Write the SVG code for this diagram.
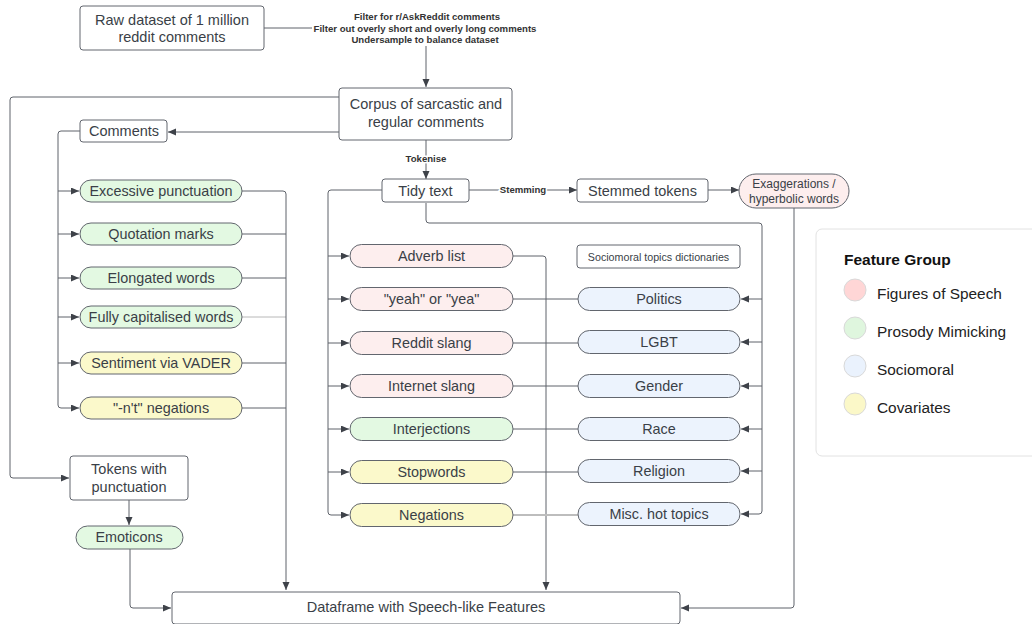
<svg xmlns="http://www.w3.org/2000/svg" width="1032" height="624" viewBox="0 0 1032 624">
<defs>
<style>
text{font-family:"Liberation Sans",Arial,sans-serif;fill:#3a3f47;text-anchor:middle;dominant-baseline:central}
.box{fill:#fff;stroke:#62666e;stroke-width:1}
.pill{stroke:#62666e;stroke-width:1}
.pk{fill:#fdeeee}.gr{fill:#e3f9e2}.bl{fill:#ecf3fd}.ye{fill:#fbf9cb}
.t{font-size:14.5px}
.p{font-size:14.4px}
.lab{font-size:9.6px;font-weight:bold;fill:#333}
.c{fill:none;stroke:#5f636b;stroke-width:1}
.ca{fill:none;stroke:#5f636b;stroke-width:1;marker-end:url(#ah)}
.lt{fill:none;stroke:#b8b8b8;stroke-width:1}
.lg{font-size:15.4px;text-anchor:start;fill:#222}
</style>
<marker id="ah" markerUnits="userSpaceOnUse" markerWidth="9" markerHeight="8" refX="8" refY="3.5" orient="auto">
<path d="M0,0 L8,3.5 L0,7 z" fill="#3e4249"/>
</marker>
</defs>
<rect width="1032" height="624" fill="#fff"/>

<g id="connectors">
<path class="c" d="M264,28 H312"/>
<path class="ca" d="M426,46 V87"/>
<path class="ca" d="M339,132 H168"/>
<path class="ca" d="M339,97 H13 Q10,97 10,100 V475 Q10,478 13,478 H69"/>
<path class="c" d="M80,131 H61 Q58,131 58,134 V405 Q58,408 61,408"/>
<path class="ca" d="M58,191 H79"/>
<path class="ca" d="M58,234 H79"/>
<path class="ca" d="M58,278 H79"/>
<path class="ca" d="M58,317 H79"/>
<path class="ca" d="M58,363 H79"/>
<path class="ca" d="M61,408 H79"/>
<path class="c" d="M242,191 H283 Q286,191 286,194 V234"/>
<path class="c" d="M242,234 H286"/>
<path class="c" d="M242,278 H286"/>
<path class="lt" d="M242,317 H286"/>
<path class="c" d="M242,363 H286"/>
<path class="c" d="M242,408 H286"/>
<path class="ca" d="M286,234 V590"/>
<path class="ca" d="M129,500 V525"/>
<path class="ca" d="M130,548 V605 Q130,608 133,608 H171"/>
<path class="ca" d="M426,140 V179"/>
<path class="ca" d="M469,190 H577"/>
<path class="ca" d="M708,190 H739"/>
<path class="ca" d="M794,208 V605 Q794,608 791,608 H681"/>
<path class="c" d="M382,190 H331 Q328,190 328,193 V512 Q328,515 331,515"/>
<path class="ca" d="M328,256 H349"/>
<path class="ca" d="M328,299 H349"/>
<path class="ca" d="M328,343 H349"/>
<path class="ca" d="M328,386 H349"/>
<path class="ca" d="M328,429 H349"/>
<path class="ca" d="M328,472 H349"/>
<path class="ca" d="M331,515 H349"/>
<path class="c" d="M426,203 V220 Q426,223 429,223 H759 Q762,223 762,226 V511 Q762,514 759,514"/>
<path class="ca" d="M762,299 H741"/>
<path class="ca" d="M762,342 H741"/>
<path class="ca" d="M762,386 H741"/>
<path class="ca" d="M762,429 H741"/>
<path class="ca" d="M762,471 H741"/>
<path class="ca" d="M759,514 H741"/>
<path class="ca" d="M513,256 H543 Q546,256 546,259 V590"/>
<path class="c" d="M513,299 H578"/>
<path class="c" d="M513,343 H578"/>
<path class="c" d="M513,386 H578"/>
<path class="c" d="M513,429 H578"/>
<path class="c" d="M513,472 H578"/>
<path fill="none" stroke="#bdbdbd" stroke-width="2" d="M513,515 H578"/>
<text class="lab" x="426" y="158" style="paint-order:stroke;stroke:#fff;stroke-width:3px">Tokenise</text>
<text class="lab" x="523" y="189" style="paint-order:stroke;stroke:#fff;stroke-width:3px">Stemming</text>
<text class="lab" x="427" y="16">Filter for r/AskReddit comments</text>
<text class="lab" x="425" y="28">Filter out overly short and overly long comments</text>
<text class="lab" x="425" y="39">Undersample to balance dataset</text>
</g>

<g id="raw"><rect class="box" x="80" y="6" width="184" height="44" rx="3"/><text class="t" x="172" y="20">Raw dataset of 1 million</text><text class="t" x="172" y="37">reddit comments</text></g>
<g id="corpus"><rect class="box" x="339" y="88" width="173" height="52" rx="3"/><text class="t" x="426" y="104">Corpus of sarcastic and</text><text class="t" x="426" y="122">regular comments</text></g>
<g id="comments"><rect class="box" x="80" y="120" width="87" height="22" rx="3"/><text class="t" x="124" y="131">Comments</text></g>
<g id="tokens-punct"><rect class="box" x="70" y="456" width="118" height="44" rx="3"/><text class="t" x="129" y="469">Tokens with</text><text class="t" x="129" y="487">punctuation</text></g>
<g id="emoticons"><rect class="pill gr" x="76" y="526" width="107" height="23" rx="11.5"/><text class="p" x="129" y="537">Emoticons</text></g>
<g id="dataframe"><rect class="box" x="172" y="592" width="508" height="32" rx="3"/><text class="t" x="426" y="607">Dataframe with Speech-like Features</text></g>

<g id="excessive"><rect class="pill gr" x="80" y="180" width="162" height="22" rx="11"/><text class="p" x="161" y="191">Excessive punctuation</text></g>
<g id="quotation"><rect class="pill gr" x="80" y="223" width="162" height="22" rx="11"/><text class="p" x="161" y="234">Quotation marks</text></g>
<g id="elongated"><rect class="pill gr" x="80" y="267" width="162" height="22" rx="11"/><text class="p" x="161" y="278">Elongated words</text></g>
<g id="fullycap"><rect class="pill gr" x="80" y="306" width="162" height="22" rx="11"/><text class="p" x="161" y="317">Fully capitalised words</text></g>
<g id="sentiment"><rect class="pill ye" x="80" y="352" width="162" height="22" rx="11"/><text class="p" x="161" y="363">Sentiment via VADER</text></g>
<g id="nt-neg"><rect class="pill ye" x="80" y="397" width="162" height="22" rx="11"/><text class="p" x="161" y="408">"-n't" negations</text></g>

<g id="tidy"><rect class="box" x="382" y="179" width="87" height="23" rx="3"/><text class="t" x="425.5" y="190.5">Tidy text</text></g>
<g id="stemmed"><rect class="box" x="577" y="179" width="131" height="23" rx="3"/><text class="t" x="642.5" y="190.5">Stemmed tokens</text></g>
<g id="exagg"><rect class="pill pk" x="739" y="174" width="110" height="34" rx="17"/><text x="794" y="183.5" style="font-size:12px">Exaggerations /</text><text x="794" y="198.5" style="font-size:12px">hyperbolic words</text></g>

<g id="adverb"><rect class="pill pk" x="350" y="244.5" width="163" height="23" rx="11.5"/><text class="p" x="431.5" y="256">Adverb list</text></g>
<g id="yeah"><rect class="pill pk" x="350" y="287.5" width="163" height="23" rx="11.5"/><text class="p" x="431.5" y="299">"yeah" or "yea"</text></g>
<g id="reddit-slang"><rect class="pill pk" x="350" y="331.5" width="163" height="23" rx="11.5"/><text class="p" x="431.5" y="343">Reddit slang</text></g>
<g id="internet-slang"><rect class="pill pk" x="350" y="374.5" width="163" height="23" rx="11.5"/><text class="p" x="431.5" y="386">Internet slang</text></g>
<g id="interjections"><rect class="pill gr" x="350" y="417.5" width="163" height="23" rx="11.5"/><text class="p" x="431.5" y="429">Interjections</text></g>
<g id="stopwords"><rect class="pill ye" x="350" y="460.5" width="163" height="23" rx="11.5"/><text class="p" x="431.5" y="472">Stopwords</text></g>
<g id="negations"><rect class="pill ye" x="350" y="503.5" width="163" height="23" rx="11.5"/><text class="p" x="431.5" y="515">Negations</text></g>

<g id="dicts"><rect class="box" x="577" y="245" width="163" height="23" rx="3"/><text x="658.5" y="256.5" style="font-size:10.7px">Sociomoral topics dictionaries</text></g>
<g id="politics"><rect class="pill bl" x="578" y="287.5" width="162" height="23" rx="11.5"/><text class="p" x="659" y="299">Politics</text></g>
<g id="lgbt"><rect class="pill bl" x="578" y="330.5" width="162" height="23" rx="11.5"/><text class="p" x="659" y="342">LGBT</text></g>
<g id="gender"><rect class="pill bl" x="578" y="374.5" width="162" height="23" rx="11.5"/><text class="p" x="659" y="386">Gender</text></g>
<g id="race"><rect class="pill bl" x="578" y="417.5" width="162" height="23" rx="11.5"/><text class="p" x="659" y="429">Race</text></g>
<g id="religion"><rect class="pill bl" x="578" y="459.5" width="162" height="23" rx="11.5"/><text class="p" x="659" y="471">Religion</text></g>
<g id="misc"><rect class="pill bl" x="578" y="502.5" width="162" height="23" rx="11.5"/><text class="p" x="659" y="514">Misc. hot topics</text></g>

<g id="legend">
<rect x="816" y="229" width="230" height="227" rx="6" fill="#fff" stroke="#e2e2e2"/>
<text x="844" y="259" style="font-size:15.5px;font-weight:bold;text-anchor:start;fill:#111">Feature Group</text>
<circle cx="855" cy="290" r="11" fill="#ffd6d6" stroke="#d9d9d9"/>
<text class="lg" x="877" y="293">Figures of Speech</text>
<circle cx="855" cy="328" r="11" fill="#dff6de" stroke="#d9d9d9"/>
<text class="lg" x="877" y="331">Prosody Mimicking</text>
<circle cx="855" cy="366" r="11" fill="#eaf2fd" stroke="#d9d9d9"/>
<text class="lg" x="877" y="369">Sociomoral</text>
<circle cx="855" cy="404" r="11" fill="#fbf8c8" stroke="#d9d9d9"/>
<text class="lg" x="877" y="407">Covariates</text>
</g>
</svg>
